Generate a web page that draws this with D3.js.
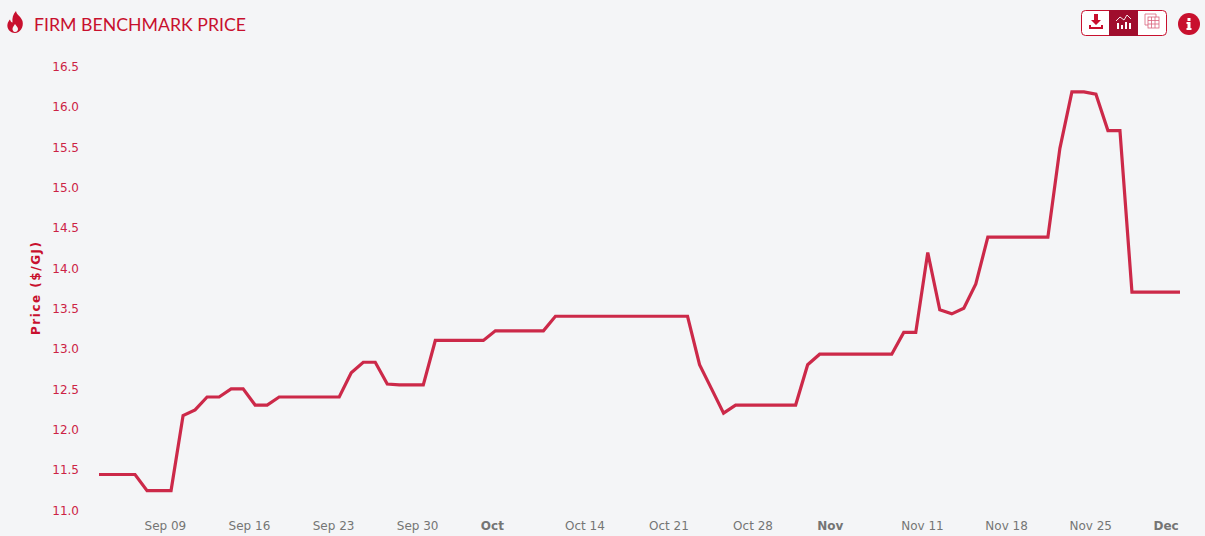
<!DOCTYPE html>
<html>
<head>
<meta charset="utf-8">
<title>Firm Benchmark Price</title>
<script src="https://cdn.jsdelivr.net/npm/d3@7"></script>
<style>
    html, body { margin: 0; padding: 0; background: #f4f5f7; }
    svg { display: block; }
    text { font-family: "DejaVu Sans", sans-serif; }
</style>
</head>
<body>
<div id="chart"></div>
<script>
const days = [
    "09-05", "09-06", "09-07", "09-08", "09-09", "09-10", "09-11", "09-12", "09-13", "09-14",
    "09-15", "09-16", "09-17", "09-18", "09-19", "09-20", "09-21", "09-22", "09-23", "09-24",
    "09-25", "09-26", "09-27", "09-28", "09-29", "09-30", "10-01", "10-02", "10-03", "10-04",
    "10-05", "10-06", "10-07", "10-08", "10-09", "10-10", "10-11", "10-12", "10-13", "10-14",
    "10-15", "10-16", "10-17", "10-18", "10-19", "10-20", "10-21", "10-22", "10-23", "10-24",
    "10-25", "10-26", "10-27", "10-28", "10-29", "10-30", "10-31", "11-01", "11-02", "11-03",
    "11-04", "11-05", "11-06", "11-07", "11-08", "11-09", "11-10", "11-11", "11-12", "11-13",
    "11-14", "11-15", "11-16", "11-17", "11-18", "11-19", "11-20", "11-21", "11-22", "11-23",
    "11-24", "11-25", "11-26", "11-27", "11-28", "11-29", "11-30", "12-01", "12-02", "12-03",
    "12-04"
];

const prices = [
    11.44, 11.44, 11.44, 11.44, 11.24, 11.24, 11.24, 12.17, 12.24, 12.40,
    12.40, 12.50, 12.50, 12.30, 12.30, 12.40, 12.40, 12.40, 12.40, 12.40,
    12.40, 12.70, 12.83, 12.83, 12.56, 12.55, 12.55, 12.55, 13.10, 13.10,
    13.10, 13.10, 13.10, 13.22, 13.22, 13.22, 13.22, 13.22, 13.40, 13.40,
    13.40, 13.40, 13.40, 13.40, 13.40, 13.40, 13.40, 13.40, 13.40, 13.40,
    12.80, 12.50, 12.20, 12.30, 12.30, 12.30, 12.30, 12.30, 12.30, 12.80,
    12.93, 12.93, 12.93, 12.93, 12.93, 12.93, 12.93, 13.20, 13.20, 14.19,
    13.48, 13.43, 13.50, 13.80, 14.38, 14.38, 14.38, 14.38, 14.38, 14.38,
    15.48, 16.18, 16.18, 16.15, 15.70, 15.70, 13.70, 13.70, 13.70, 13.70,
    13.70
];

const yTicks = [11, 11.5, 12, 12.5, 13, 13.5, 14, 14.5, 15, 15.5, 16, 16.5];

const xTickDays = ["09-09", "09-16", "09-23", "09-30", "10-07", "10-14", "10-21", "10-28", "11-04", "11-11", "11-18", "11-25", "12-02"];
const xTickLabels = ["Sep 09", "Sep 16", "Sep 23", "Sep 30", "Oct", "Oct 14", "Oct 21", "Oct 28", "Nov", "Nov 11", "Nov 18", "Nov 25", "Dec"];
const boldLabels = ["Oct", "Nov", "Dec"];

const red = "#c8102e";
const parseDay = d => new Date(`2024-${d}T00:00:00`);

const svg = d3.select("#chart")
    .append("svg")
    .attr("width", 1205)
    .attr("height", 536);

// Scales
const x = d3.scaleTime()
    .domain([parseDay(days[0]), parseDay(days[days.length - 1])])
    .range([99, 1180]);

const y = d3.scaleLinear()
    .domain([11, 16.5])
    .range([510, 66]);

// Y axis
const yAxis = svg.append("g")
    .attr("transform", "translate(79,0.5)")
    .call(d3.axisLeft(y).tickValues(yTicks).tickFormat(d3.format(".1f")).tickSize(0).tickPadding(0));
yAxis.select(".domain").remove();
yAxis.selectAll("text")
    .style("font-family", '"DejaVu Sans", sans-serif')
    .style("font-size", "12px")
    .attr("fill", "#cc2244");

// X axis, labels start just left of the tick like the original
const xAxis = svg.append("g")
    .attr("transform", "translate(0,510)")
    .call(d3.axisBottom(x)
        .tickValues(xTickDays.map(parseDay))
        .tickFormat((d, i) => xTickLabels[i])
        .tickSize(0)
        .tickPadding(0));
xAxis.select(".domain").remove();
xAxis.selectAll("text")
    .attr("text-anchor", "start")
    .attr("dx", -3)
    .attr("y", 11)
    .style("font-family", '"DejaVu Sans", sans-serif')
    .style("font-size", "12px")
    .style("font-weight", (d, i) => boldLabels.includes(xTickLabels[i]) ? "bold" : "normal")
    .attr("fill", "#757575");

// Y axis title
svg.append("text")
    .attr("transform", "translate(40,288.5) rotate(-90)")
    .attr("text-anchor", "middle")
    .attr("fill", red)
    .attr("textLength", 93)
    .attr("lengthAdjust", "spacing")
    .style("font-size", "12px")
    .style("font-weight", "bold")
    .text("Price ($/GJ)");

// Price line
const line = d3.line()
    .x((d, i) => x(parseDay(days[i])))
    .y(d => y(d));

svg.append("path")
    .datum(prices)
    .attr("fill", "none")
    .attr("stroke", "#cc2949")
    .attr("stroke-width", 3.2)
    .attr("stroke-linejoin", "miter")
    .attr("d", line);

// Title
svg.append("text")
    .attr("x", 34)
    .attr("y", 31)
    .attr("fill", red)
    .attr("textLength", 212)
    .attr("lengthAdjust", "spacingAndGlyphs")
    .style("font-family", "Lato, sans-serif")
    .style("font-size", "18px")
    .text("FIRM BENCHMARK PRICE");

// Flame icon
svg.append("path")
    .attr("fill", red)
    .attr("fill-rule", "evenodd")
    .attr("d", "M16 11 C16.5 15 20.5 15.5 22.5 21 C24 27 20 33 15 33 C10 33 6.5 28.5 7.5 24 C8 22 9 20.5 10 19.5 C10.5 21.5 11.5 22.5 12.5 22.5 C12 18 13 14 16 11 Z M15 32 C17 32 18 30.5 18 29 C18 27 16 26 15 24 C14 26 12.5 27 12.5 29 C12.5 30.5 13.5 32 15 32 Z");

// Toolbar
const toolbar = svg.append("g");
toolbar.append("rect")
    .attr("x", 1081.5).attr("y", 10.5)
    .attr("width", 85).attr("height", 25)
    .attr("rx", 4)
    .attr("fill", "#fff")
    .attr("stroke", red);
toolbar.append("rect")
    .attr("x", 1109).attr("y", 10)
    .attr("width", 29).attr("height", 26)
    .attr("fill", "#a00d2d");

// Download icon
toolbar.append("path")
    .attr("fill", red)
    .attr("d", "M1094 14 h4 v6 h3 l-5 5 l-5 -5 h3 z M1089 25 h2 v2 h10 v-2 h2 v4 h-14 z");

// Chart icon
toolbar.append("path")
    .attr("fill", "#fff")
    .attr("d", "M1117 23 h2 v6 h-2 z M1121 25 h2 v4 h-2 z M1125 22 h2 v7 h-2 z M1129 23 h2 v6 h-2 z");
toolbar.append("path")
    .attr("fill", "none")
    .attr("stroke", "#fff")
    .attr("stroke-width", 0.9)
    .attr("d", "M1116 21 L1120 17 L1124 20 L1127 15 L1131 19");

// Table icon
const grid = toolbar.append("g")
    .attr("stroke", "#d9627c")
    .attr("fill", "none")
    .attr("stroke-width", 0.8);
grid.append("path").attr("d", "M1145 14 h11 v3 M1145 14 v11 h3");
grid.append("rect").attr("x", 1148).attr("y", 17).attr("width", 11).attr("height", 11);
grid.append("path").attr("d", "M1148 20.5 h11 M1148 24 h11 M1151.5 17 v11 M1155 17 v11");

// Info button
svg.append("circle")
    .attr("cx", 1189).attr("cy", 24).attr("r", 11)
    .attr("fill", red);
svg.append("path")
    .attr("fill", "#fff")
    .attr("d", "M1187.5 18 h3 v3 h-3 z M1186.5 22 h4 v6 h1 v2 h-5 v-2 h1 v-4 h-1 z");
</script>
</body>
</html>
